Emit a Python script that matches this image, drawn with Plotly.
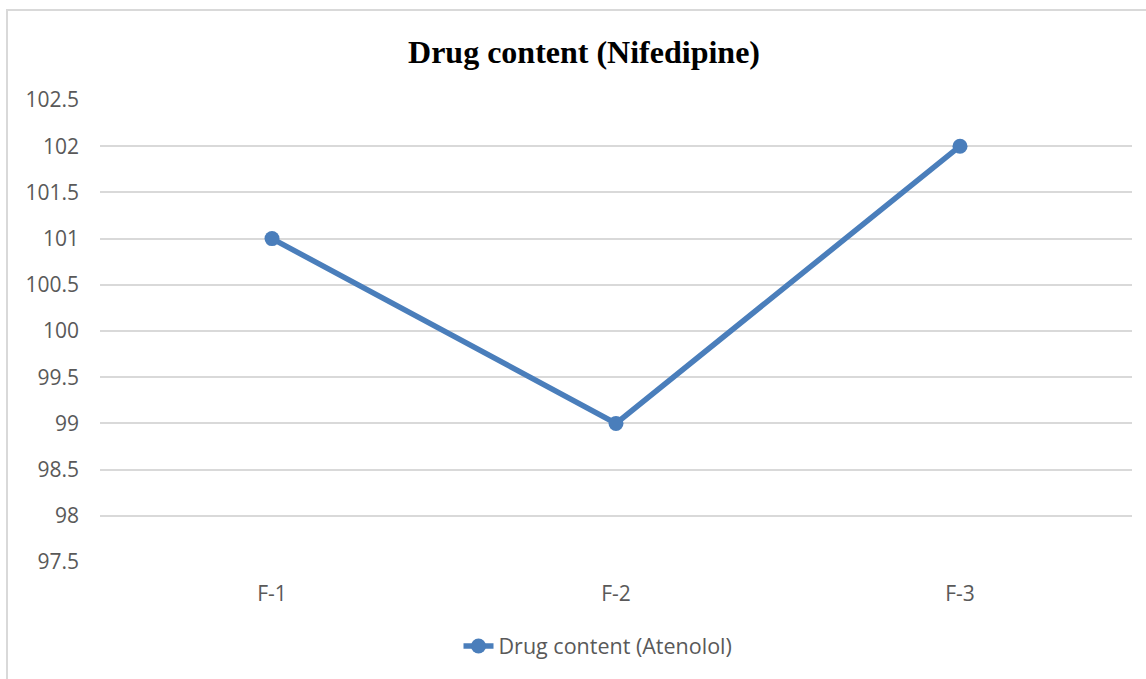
import plotly.graph_objects as go

# Drug content per formulation
formulations = ["F-1", "F-2", "F-3"]
drug_content = [101, 99, 102]
series_name = "Drug content (Atenolol)"
chart_title = "Drug content (Nifedipine)"

W, H = 1146, 679
ML, MR, MT, MB = 100, 14, 100, 117
pw, ph = W - ML - MR, H - MT - MB

def px_x(x):
    return (x - ML) / pw

def px_y(y):
    return (H - MB - y) / ph

fig = go.Figure()
fig.add_trace(go.Scatter(
    x=formulations, y=drug_content, name=series_name,
    mode="lines+markers",
    line=dict(color="#4a7ebb", width=5.5),
    marker=dict(color="#4a7ebb", size=15),
))

fig.update_layout(
    width=W, height=H,
    margin=dict(l=ML, r=MR, t=MT, b=MB),
    paper_bgcolor="white", plot_bgcolor="white",
    title=dict(text="<b>" + chart_title + "</b>", x=584 / W, xref="container",
               xanchor="center", y=1 - 52 / H, yanchor="middle",
               font=dict(family="Liberation Serif", size=32, color="black")),
    font=dict(family="Open Sans", color="#595959", size=21),
    xaxis=dict(range=[-0.5, 2.5], showgrid=False, zeroline=False, showline=False,
               ticks="", ticklabelstandoff=17,
               tickfont=dict(size=21, color="#595959")),
    yaxis=dict(range=[97.5, 102.5], dtick=0.5, showgrid=True, gridcolor="#d9d9d9",
               gridwidth=1.5, zeroline=False, showline=False, ticks="",
               ticklabelstandoff=20,
               tickfont=dict(size=21, color="#595959")),
    showlegend=True,
    legend=dict(orientation="h", x=598 / W, xanchor="center", xref="container",
                y=1 - 646 / H, yanchor="middle", yref="container",
                font=dict(size=21.5, color="#595959")),
    shapes=[dict(type="rect", xref="paper", yref="paper",
                 x0=px_x(7), x1=px_x(1150), y0=px_y(700), y1=px_y(10),
                 line=dict(color="#d9d9d9", width=2), fillcolor="rgba(0,0,0,0)",
                 layer="below")],
)

fig.write_html("out.html")
